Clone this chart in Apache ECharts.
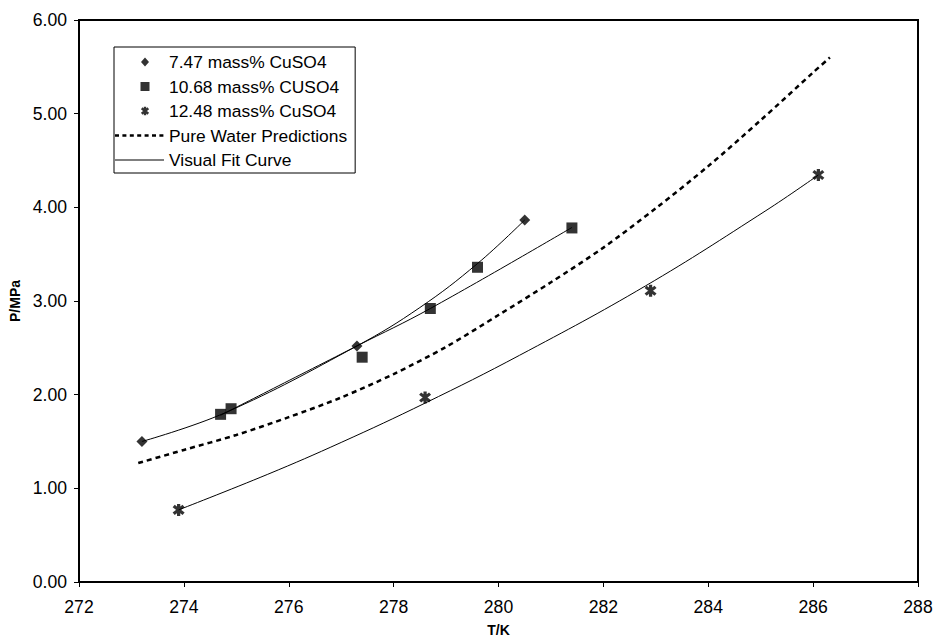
<!DOCTYPE html>
<html><head><meta charset="utf-8">
<script src="https://cdn.jsdelivr.net/npm/echarts@6/dist/echarts.min.js"></script>
<style>html,body{margin:0;padding:0;background:#fff}#c{width:933px;height:639px}</style>
</head><body><div id="c"></div>
<script>
// Measured data
var s1T = [273.2, 277.3, 280.5];
var s1P = [1.50, 2.52, 3.865];
var s2T = [274.7, 274.9, 277.4, 278.7, 279.6, 281.4];
var s2P = [1.79, 1.85, 2.40, 2.92, 3.36, 3.78];
var s3T = [273.9, 278.6, 282.9, 286.1];
var s3P = [0.77, 1.97, 3.11, 4.345];
// Pure water predictions
var pwT = [273.13, 274, 275, 276, 277, 278, 279, 280, 281, 282, 283, 284, 285, 286, 286.32];
var pwP = [1.27, 1.41, 1.57, 1.76, 1.97, 2.22, 2.51, 2.85, 3.20, 3.57, 3.99, 4.44, 4.93, 5.44, 5.60];
// Visual fit curves
var f1T = [273.2, 274.8, 277.3, 278.5, 279.6, 280.5];
var f1P = [1.50, 1.81, 2.52, 2.93, 3.40, 3.865];
var f2T = [274.7, 277.3, 278.7, 281.4];
var f2P = [1.78, 2.52, 2.92, 3.785];
var f3T = [273.9, 275.6, 277.0, 278.6, 280.4, 282.8, 285.1, 286.1];
var f3P = [0.77, 1.15, 1.49, 1.91, 2.42, 3.16, 3.965, 4.345];

var names = ['7.47 mass% CuSO4', '10.68 mass% CUSO4', '12.48 mass% CuSO4', 'Pure Water Predictions', 'Visual Fit Curve'];

function zip(a, b) { return a.map(function (v, i) { return [v, b[i]]; }); }

// asterisk symbol path (three bars), centred at (cx, cy)
function bar(angleDeg, L, W, cx, cy) {
  var a = angleDeg * Math.PI / 180;
  var c = Math.cos(a), s = Math.sin(a);
  var pts = [[-L, -W], [L, -W], [L, W], [-L, W]].map(function (p) {
    return [(cx + p[0] * c - p[1] * s).toFixed(2), (cy + p[0] * s + p[1] * c).toFixed(2)];
  });
  return 'M' + pts[0].join(',') + ' L' + pts[1].join(',') + ' L' + pts[2].join(',') + ' L' + pts[3].join(',') + ' Z ';
}
function star(L, W, cx, cy) { return bar(90, L, W, cx, cy) + bar(40, L, W, cx, cy) + bar(-40, L, W, cx, cy); }
var starPath = 'path://' + star(6, 1.5, 0, 0);

// legend icons drawn in a 49x10 box (zero-area corner points fix the box)
var IW = 49, IH = 10;
var box = 'M0,0 L0,0 Z M' + IW + ',' + IH + ' L' + IW + ',' + IH + ' Z ';
var cx = 30, cy = 5;
var iconDiamond = 'path://' + box + 'M' + cx + ',' + (cy - 4.5) + ' L' + (cx + 4) + ',' + cy + ' L' + cx + ',' + (cy + 4.5) + ' L' + (cx - 4) + ',' + cy + ' Z';
var iconSquare = 'path://' + box + 'M' + (cx - 4.5) + ',' + (cy - 4.5) + ' L' + (cx + 4.5) + ',' + (cy - 4.5) + ' L' + (cx + 4.5) + ',' + (cy + 4.5) + ' L' + (cx - 4.5) + ',' + (cy + 4.5) + ' Z';
var iconStar = 'path://' + box + star(4.3, 1.2, cx, cy);
var dashes = '';
for (var k = 0; k < 7; k++) {
  var x0 = k * 7.4, x1 = x0 + 4;
  dashes += 'M' + x0 + ',3.8 L' + x1 + ',3.8 L' + x1 + ',6.2 L' + x0 + ',6.2 Z ';
}
var iconDash = 'path://' + box + dashes;
var iconLine = 'path://' + box + 'M0,4.5 L' + IW + ',4.5 L' + IW + ',5.5 L0,5.5 Z';

var font = '"Liberation Sans", Arial, sans-serif';
var chart = echarts.init(document.getElementById('c'), null, { renderer: 'svg' });
var fitStyle = { color: '#000', width: 1 };
chart.setOption({
  animation: false,
  backgroundColor: '#fff',
  textStyle: { fontFamily: font },
  grid: { left: 79, right: 15, top: 20, bottom: 57, outerBoundsMode: 'none', containLabel: false,
    show: true, borderColor: '#000', borderWidth: 2, backgroundColor: 'transparent' },
  legend: {
    data: [
      { name: names[0], icon: iconDiamond },
      { name: names[1], icon: iconSquare },
      { name: names[2], icon: iconStar },
      { name: names[3], icon: iconDash },
      { name: names[4], icon: iconLine }
    ],
    orient: 'vertical',
    left: 114, top: 47,
    padding: [5, 8, 3, 1],
    itemWidth: IW, itemHeight: IH,
    itemGap: 4.5,
    itemStyle: { borderWidth: 0 },
    borderColor: '#000', borderWidth: 1,
    backgroundColor: '#fff',
    textStyle: { fontFamily: font, fontSize: 17.4, color: '#000', lineHeight: 20 },
    selectedMode: false
  },
  xAxis: {
    type: 'value', min: 272, max: 288, interval: 2,
    name: 'T/K', nameLocation: 'middle', nameGap: 41,
    nameTextStyle: { fontFamily: font, fontSize: 14, fontWeight: 'bold', color: '#000' },
    axisLine: { show: true, lineStyle: { color: '#000', width: 2 } },
    axisTick: { show: true, length: 5, lineStyle: { color: '#000', width: 1 } },
    axisLabel: { color: '#000', fontSize: 17.6, fontFamily: font, margin: 16 },
    splitLine: { show: false }
  },
  yAxis: {
    type: 'value', min: 0, max: 6, interval: 1,
    name: 'P/MPa', nameLocation: 'middle', nameGap: 57, nameRotate: 90,
    nameTextStyle: { fontFamily: font, fontSize: 14, fontWeight: 'bold', color: '#000' },
    axisLine: { show: true, lineStyle: { color: '#000', width: 2 } },
    axisTick: { show: true, length: 5, lineStyle: { color: '#000', width: 1 } },
    axisLabel: { color: '#000', fontSize: 17.6, fontFamily: font, margin: 12,
      formatter: function (v) { return v.toFixed(2); } },
    splitLine: { show: false }
  },
  series: [
    { name: names[0], type: 'scatter', data: zip(s1T, s1P), symbol: 'diamond', symbolSize: 11, itemStyle: { color: '#000' }, z: 5 },
    { name: names[1], type: 'scatter', data: zip(s2T, s2P), symbol: 'rect', symbolSize: 11, itemStyle: { color: '#000' }, z: 5 },
    { name: names[2], type: 'scatter', data: zip(s3T, s3P), symbol: starPath, symbolSize: 12, itemStyle: { color: '#000' }, z: 5 },
    { name: names[3], type: 'line', data: zip(pwT, pwP), symbol: 'none', smooth: 0.3,
      lineStyle: { color: '#000', width: 2.5, type: [5, 4] }, itemStyle: { color: '#000' }, z: 3 },
    { name: names[4], type: 'line', data: zip(f1T, f1P), symbol: 'none', smooth: 0.4, lineStyle: fitStyle, itemStyle: { color: '#000' }, z: 3 },
    { name: names[4], type: 'line', data: zip(f2T, f2P), symbol: 'none', smooth: 0.4, lineStyle: fitStyle, itemStyle: { color: '#000' }, z: 3 },
    { name: names[4], type: 'line', data: zip(f3T, f3P), symbol: 'none', smooth: 0.4, lineStyle: fitStyle, itemStyle: { color: '#000' }, z: 3 }
  ]
});
</script></body></html>
